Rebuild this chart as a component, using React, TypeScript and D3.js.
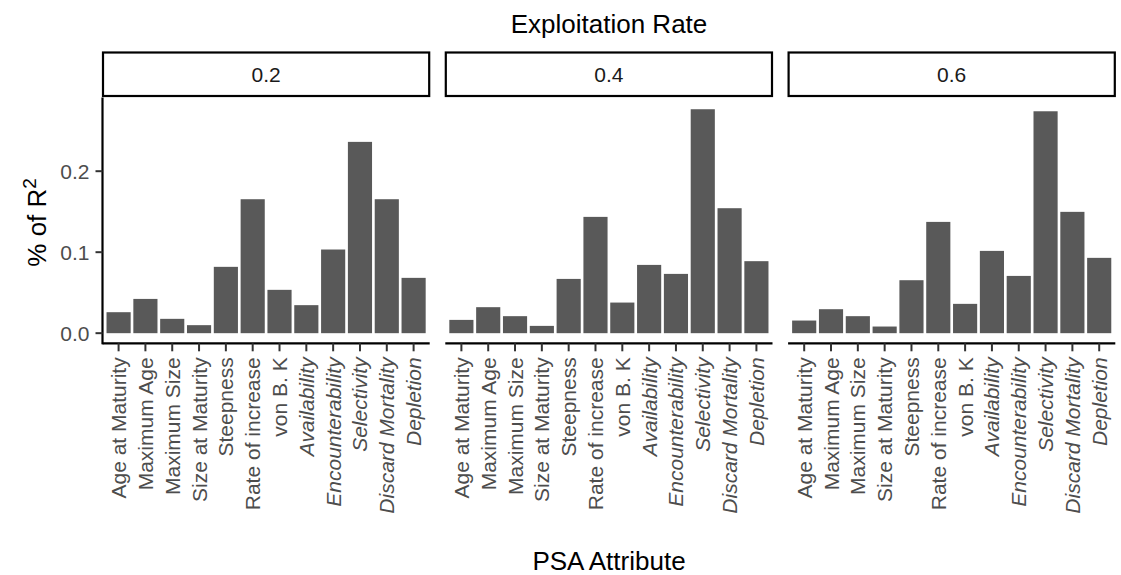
import React from "react";
import * as d3 from "d3";

const attributes = [
  "Age at Maturity",
  "Maximum Age",
  "Maximum Size",
  "Size at Maturity",
  "Steepness",
  "Rate of increase",
  "von B. K",
  "Availability",
  "Encounterability",
  "Selectivity",
  "Discard Mortality",
  "Depletion",
];
const italicAttributes = ["Availability", "Encounterability", "Selectivity", "Discard Mortality", "Depletion"];
const rates = ["0.2", "0.4", "0.6"];
const values02 = [0.0259, 0.0423, 0.0177, 0.0099, 0.0819, 0.1654, 0.0535, 0.0346, 0.1033, 0.2362, 0.1654, 0.0683];
const values04 = [0.0164, 0.0321, 0.021, 0.009, 0.067, 0.1436, 0.0378, 0.0843, 0.0732, 0.2765, 0.1543, 0.0889];
const values06 = [0.0156, 0.0296, 0.021, 0.0082, 0.0654, 0.1374, 0.0362, 0.1016, 0.0707, 0.274, 0.1498, 0.093];
const yTicks = [0.0, 0.1, 0.2];

const W = 1121;
const H = 575;
const panelX0 = [102.5, 445.3, 788.1];
const panelW = 327.2;
const panelTop = 97.5;
const panelBottom = 343.3;
const stripTop = 52.5;
const stripBottom = 96;
const font = "'Liberation Sans', Arial, sans-serif";
const grey = "#4D4D4D";
const tickFont = 21;
const titleFont = 26;

export default function App() {
  const seriesByRate = [values02, values04, values06];
  const y = d3.scaleLinear().domain([-0.0125, 0.291]).range([panelBottom, panelTop]);
  // discrete scale mimicking ggplot (expand add 0.6, bar width 0.9)
  const unit = panelW / (attributes.length - 1 + 1.2);
  const cx = (i: number) => unit * (0.6 + i);
  const bw = unit * 0.9;

  return (
    <svg width={W} height={H} style={{ display: "block", position: "absolute", left: 0, top: 0 }} fontFamily={font}>
      <rect x={0} y={0} width={W} height={H} fill="#fff" />
      <text x={609} y={33} textAnchor="middle" fontSize={titleFont} fill="#000">Exploitation Rate</text>
      {rates.map((r, p) => {
        const x0 = panelX0[p];
        const vals = seriesByRate[p];
        return (
          <g key={r}>
            <rect x={x0 + 0.5} y={stripTop} width={panelW - 1} height={stripBottom - stripTop} fill="#fff" stroke="#000" strokeWidth={2.2} />
            <text x={x0 + panelW / 2} y={(stripTop + stripBottom) / 2 + 7.5} textAnchor="middle" fontSize={21} fill="#1A1A1A">{r}</text>
            {vals.map((v, i) => (
              <rect key={i} x={x0 + cx(i) - bw / 2} y={y(v)} width={bw} height={y(0) - y(v)} fill="#595959" />
            ))}
            <line x1={x0} x2={x0 + panelW} y1={panelBottom} y2={panelBottom} stroke="#000" strokeWidth={2.2} />
            {attributes.map((a, i) => (
              <g key={a}>
                <line x1={x0 + cx(i)} x2={x0 + cx(i)} y1={panelBottom} y2={panelBottom + 8} stroke="#333" strokeWidth={2} />
                <text
                  transform={`translate(${x0 + cx(i) + 7.5},${panelBottom + 14}) rotate(-90)`}
                  textAnchor="end"
                  fontSize={tickFont}
                  fill={grey}
                  fontStyle={italicAttributes.includes(a) ? "italic" : "normal"}
                >
                  {a}
                </text>
              </g>
            ))}
            {p === 0 && (
              <g>
                <line x1={x0} x2={x0} y1={panelTop} y2={panelBottom + 1} stroke="#000" strokeWidth={2.2} />
                {yTicks.map((t) => (
                  <g key={t}>
                    <line x1={x0 - 7} x2={x0} y1={y(t)} y2={y(t)} stroke="#333" strokeWidth={2} />
                    <text x={x0 - 13} y={y(t) + 7.5} textAnchor="end" fontSize={tickFont} fill={grey}>{d3.format(".1f")(t)}</text>
                  </g>
                ))}
              </g>
            )}
          </g>
        );
      })}
      <text transform={`translate(46,${(panelTop + panelBottom) / 2 + 2}) rotate(-90)`} textAnchor="middle" fontSize={titleFont} fill="#000">
        % of R<tspan dy={-10} fontSize={19}>2</tspan>
      </text>
      <text x={609} y={570} textAnchor="middle" fontSize={titleFont} fill="#000">PSA Attribute</text>
    </svg>
  );
}
